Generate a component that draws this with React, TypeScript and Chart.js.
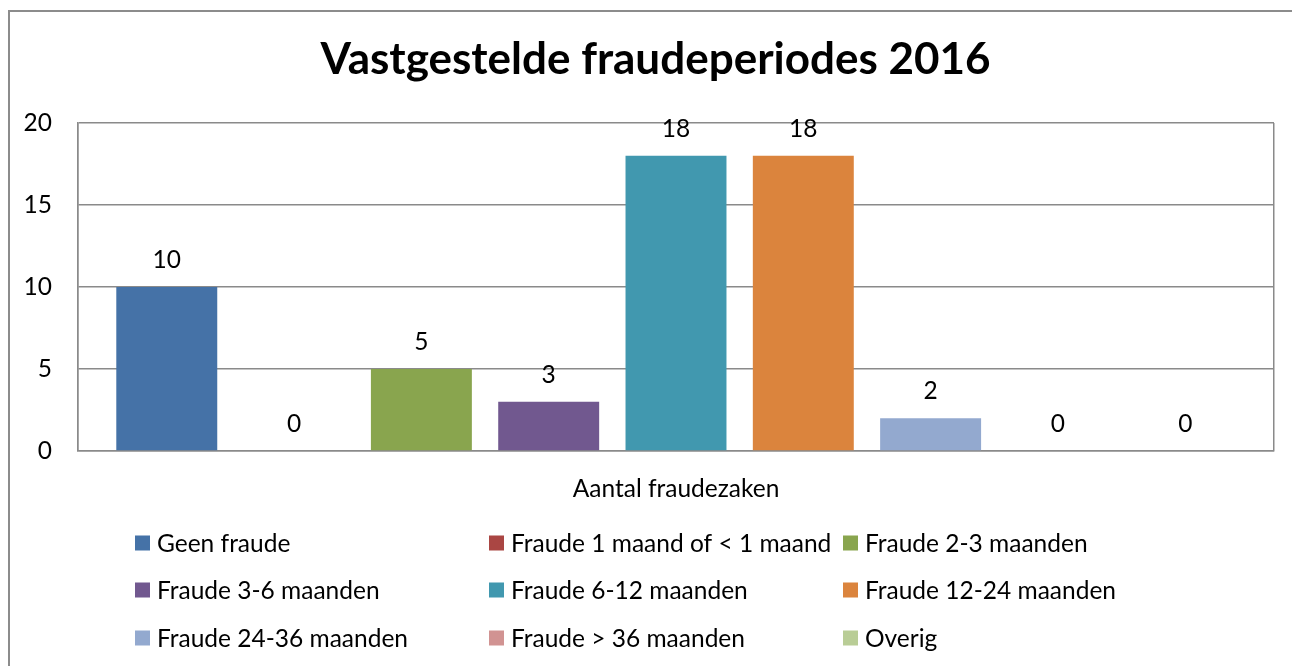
import React, { useEffect, useRef } from "react";
import { Chart, registerables } from "chart.js";

Chart.register(...registerables);

const titleText = "Vastgestelde fraudeperiodes 2016";
const categories = ["Aantal fraudezaken"];
const seriesNames = [
  "Geen fraude",
  "Fraude 1 maand of < 1 maand",
  "Fraude 2-3 maanden",
  "Fraude 3-6 maanden",
  "Fraude 6-12 maanden",
  "Fraude 12-24 maanden",
  "Fraude 24-36 maanden",
  "Fraude > 36 maanden",
  "Overig",
];
const seriesValues = [10, 0, 5, 3, 18, 18, 2, 0, 0];
const seriesColors = [
  "#4572A7",
  "#AA4643",
  "#89A54E",
  "#71588F",
  "#4198AF",
  "#DB843D",
  "#93A9CF",
  "#D19392",
  "#B9CD96",
];
const yMin = 0;
const yMax = 20;
const yStep = 5;

const FONT = "Lato, 'Open Sans', sans-serif";
const TEXT_SIZE = 24.5;
const TITLE_SIZE = 44;

const framePlugin = {
  id: "frame",
  beforeDraw(chart: any) {
    const { ctx, width, height } = chart;
    ctx.save();
    ctx.fillStyle = "#ffffff";
    ctx.fillRect(0, 0, width, height);
    ctx.strokeStyle = "#8c8c8c";
    ctx.lineWidth = 2;
    ctx.strokeRect(9, 11, width + 20, height + 20);
    ctx.restore();
  },
  afterDraw(chart: any) {
    const { ctx } = chart;
    ctx.save();
    ctx.font = `bold ${TITLE_SIZE}px ${FONT}`;
    ctx.fillStyle = "#000000";
    ctx.textAlign = "center";
    ctx.textBaseline = "alphabetic";
    ctx.fillText(titleText, 655.5, 74);
    ctx.restore();
  },
};

const valueLabelPlugin = {
  id: "valueLabels",
  afterDatasetsDraw(chart: any) {
    const { ctx } = chart;
    ctx.save();
    ctx.font = `${TEXT_SIZE}px ${FONT}`;
    ctx.fillStyle = "#000000";
    ctx.textAlign = "center";
    ctx.textBaseline = "middle";
    chart.data.datasets.forEach((ds: any, i: number) => {
      const meta = chart.getDatasetMeta(i);
      meta.data.forEach((bar: any, j: number) => {
        ctx.fillText(String(ds.data[j]), bar.x, bar.y - 27);
      });
    });
    ctx.restore();
  },
};

const gridLegendPlugin = {
  id: "gridLegend",
  afterDraw(chart: any) {
    const { ctx } = chart;
    const colX = [135, 489, 843];
    const rowY = [543, 590, 638];
    const sw = 15;
    ctx.save();
    ctx.font = `${TEXT_SIZE}px ${FONT}`;
    ctx.textAlign = "left";
    ctx.textBaseline = "middle";
    chart.data.datasets.forEach((ds: any, i: number) => {
      const col = i % 3;
      const row = Math.floor(i / 3);
      const x = colX[col];
      const y = rowY[row];
      ctx.fillStyle = ds.backgroundColor;
      ctx.fillRect(x, y - sw / 2, sw, sw);
      ctx.fillStyle = "#000000";
      ctx.fillText(ds.label, x + 22, y + 1);
    });
    ctx.restore();
  },
};

export default function App() {
  const canvasRef = useRef<HTMLCanvasElement | null>(null);

  useEffect(() => {
    if (!canvasRef.current) return;
    const chart = new Chart(canvasRef.current, {
      type: "bar",
      data: {
        labels: categories,
        datasets: seriesNames.map((name, i) => ({
          label: name,
          data: [seriesValues[i]],
          backgroundColor: seriesColors[i],
          borderWidth: 0,
          categoryPercentage: 0.958,
          barPercentage: 0.793,
        })),
      },
      options: {
        animation: false,
        responsive: false,
        maintainAspectRatio: false,
        devicePixelRatio: 1,
        layout: { padding: { left: 0, right: 18, top: 123, bottom: 0 } },
        plugins: {
          legend: { display: false },
          tooltip: { enabled: false },
          title: { display: false },
        },
        scales: {
          x: {
            grid: {
              display: true,
              offset: true,
              color: "#8a8a8a",
              lineWidth: 1.5,
              drawTicks: false,
            },
            border: { display: true, color: "#8a8a8a", width: 1.5 },
            ticks: {
              color: "#000000",
              font: { family: FONT, size: TEXT_SIZE },
              padding: 23,
            },
            afterFit(scale: any) {
              scale.height = 215;
            },
          },
          y: {
            min: yMin,
            max: yMax,
            ticks: {
              stepSize: yStep,
              color: "#000000",
              font: { family: FONT, size: TEXT_SIZE },
              padding: 26,
            },
            grid: { color: "#8a8a8a", lineWidth: 1.5, drawTicks: false },
            border: { display: true, color: "#8a8a8a", width: 1.5 },
            afterFit(scale: any) {
              scale.width = 78;
            },
          },
        },
      },
      plugins: [framePlugin, valueLabelPlugin, gridLegendPlugin],
    });
    return () => chart.destroy();
  }, []);

  return (
    <div style={{ position: "fixed", left: 0, top: 0, width: 1292, height: 666, background: "#fff" }}>
      <canvas ref={canvasRef} width={1292} height={666} style={{ width: 1292, height: 666, display: "block" }} />
    </div>
  );
}
